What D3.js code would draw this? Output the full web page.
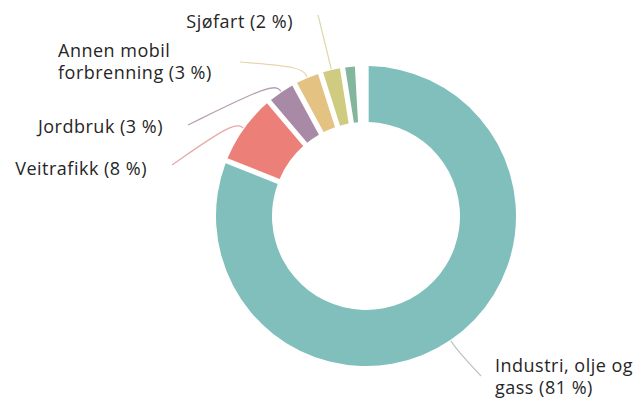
<!DOCTYPE html>
<html>
<head>
<meta charset="utf-8">
<script src="https://cdn.jsdelivr.net/npm/d3@7"></script>
<style>
  body { margin: 0; background: #fff; }
  #chart-area { width: 634px; height: 401px; }
  .label { font-family: "Open Sans", "Noto Sans", sans-serif; font-size: 18px; letter-spacing: 0.5px; fill: #262626; }
</style>
</head>
<body>
<div id="chart-area"></div>
<script>
// data (share of emissions, %)
var categories = ["Industri, olje og gass", "Veitrafikk", "Jordbruk", "Annen mobil forbrenning", "Sjøfart", "Annet"];
var values = [81, 7.8, 3.3, 3.0, 2.4, 1.6];
var labelLines = [["Industri, olje og", "gass (81 %)"], ["Veitrafikk (8 %)"], ["Jordbruk (3 %)"], ["Annen mobil", "forbrenning (3 %)"], ["Sjøfart (2 %)"], []];

var colors = ["#80bfbb", "#ec7f78", "#a98aa6", "#e3c282", "#cfcb80", "#84b59d"];
var lineColors = ["#b9c4c3", "#e6a8a6", "#b79fb4", "#e8d5ae", "#ddd7a8", "none"];

// label placement: end of leader line and text anchor
var labelPos = [
    { end: [481, 376], tx: 495, ty: 372, anchor: "start" },
    { end: [172, 165], tx: 147, ty: 175, anchor: "end" },
    { end: [188, 125], tx: 163, ty: 133, anchor: "end" },
    { end: [240, 62],  tx: 58,  ty: 57,  anchor: "start" },
    { end: [318, 15],  tx: 293, ty: 28,  anchor: "end" },
    null
];

var width = 634, height = 401;
var cx = 366, cy = 216;
var outerR = 150, innerR = 94;

var svg = d3.select("#chart-area").append("svg")
    .attr("width", width)
    .attr("height", height);

var g = svg.append("g")
    .attr("transform", "translate(" + cx + "," + cy + ")");

var total = d3.sum(values);

var pie = d3.pie()
    .sort(null)
    .value(function(d) { return d; })
    .startAngle(0)
    .endAngle(2 * Math.PI * total / 100);

var arc = d3.arc()
    .innerRadius(innerR)
    .outerRadius(outerR)
    .padAngle(0.03);

var arcs = pie(values);

g.selectAll("path.slice")
    .data(arcs)
    .enter()
    .append("path")
    .attr("class", "slice")
    .attr("d", arc)
    .attr("fill", function(d, i) { return colors[i]; });

// leader lines
var leader = d3.line().curve(d3.curveBasis);

arcs.forEach(function(d, i) {
    var pos = labelPos[i];
    if (!pos) return;
    var mid = (d.startAngle + d.endAngle) / 2;
    var p0 = [Math.sin(mid) * (outerR + 1), -Math.cos(mid) * (outerR + 1)];
    var p1 = [Math.sin(mid) * (outerR + 12), -Math.cos(mid) * (outerR + 12)];
    var p2 = [pos.end[0] - cx, pos.end[1] - cy];
    g.append("path")
        .attr("d", leader([p0, p1, p2]))
        .attr("fill", "none")
        .attr("stroke", lineColors[i])
        .attr("stroke-width", 1.2);

    var text = svg.append("text")
        .attr("class", "label")
        .attr("text-anchor", pos.anchor);
    labelLines[i].forEach(function(line, k) {
        text.append("tspan")
            .attr("x", pos.tx)
            .attr("y", pos.ty + k * 22)
            .text(line);
    });
});
</script>
</body>
</html>
